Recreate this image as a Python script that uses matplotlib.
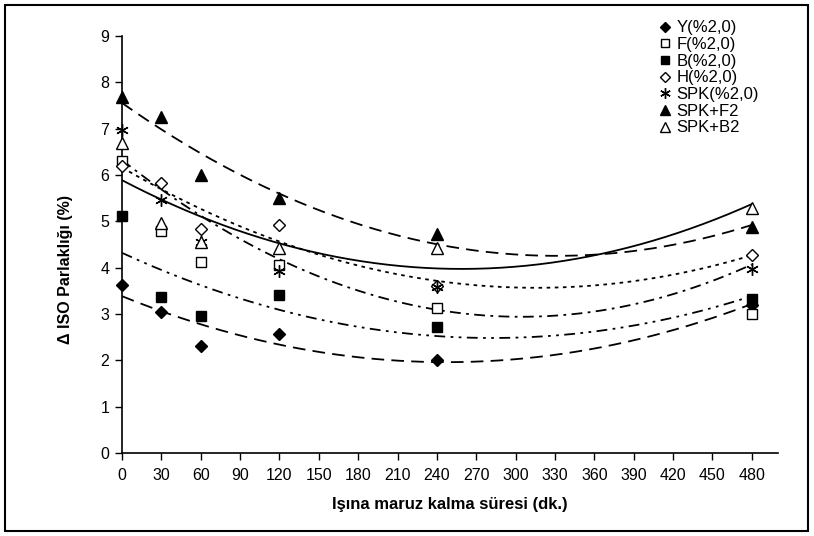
import numpy as np
import matplotlib
matplotlib.use("Agg")
import matplotlib.pyplot as plt
from matplotlib.patches import Rectangle

plt.rcParams['font.family'] = ['Liberation Sans', 'DejaVu Sans']

times = [0, 30, 60, 120, 240, 480]
series_names = ["Y(%2,0)", "F(%2,0)", "B(%2,0)", "H(%2,0)", "SPK(%2,0)", "SPK+F2", "SPK+B2"]
y_vals = [3.62, 3.05, 2.30, 2.57, 2.00, 3.20]
f_vals = [6.30, 4.80, 4.12, 4.05, 3.12, 3.00]
b_vals = [5.12, 3.37, 2.95, 3.40, 2.72, 3.33]
h_vals = [6.20, 5.83, 4.83, 4.93, 3.60, 4.28]
spk_vals = [6.97, 5.47, 4.55, 3.93, 3.58, 3.97]
spkf2_vals = [7.68, 7.25, 6.00, 5.50, 4.72, 4.88]
spkb2_vals = [6.70, 4.97, 4.55, 4.42, 4.42, 5.28]
x_ticks = list(range(0, 481, 30))
y_ticks = list(range(0, 10))

all_vals = [y_vals, f_vals, b_vals, h_vals, spk_vals, spkf2_vals, spkb2_vals]
markers = ['D', 's', 's', 'D', (6, 2, 0), '^', '^']
mfc = ['black', 'white', 'black', 'white', 'black', 'black', 'white']
msizes = [6.5, 7, 7, 6.5, 9, 8, 8]
# trend line styles (None = no trend line)
trend_styles = [(0, (7, 4)), None, (0, (6, 3, 1.5, 3, 1.5, 3)), (0, (2, 2.5)),
                (0, (6, 3, 1.5, 3)), (0, (7, 4)), '-']

fig = plt.figure(figsize=(8.14, 5.36), dpi=100)
ax = fig.add_axes([122/814, 83/536, (778-122)/814, 417/536])

xs = np.linspace(0, 480, 300)
for vals, ls in zip(all_vals, trend_styles):
    if ls is None:
        continue
    c = np.polyfit(times, vals, 2)
    ax.plot(xs, np.polyval(c, xs), color='black', linestyle=ls, linewidth=1.3, zorder=2)

handles = []
for name, vals, m, fc, ms in zip(series_names, all_vals, markers, mfc, msizes):
    h, = ax.plot(times, vals, linestyle='none', marker=m, markersize=ms,
                 markerfacecolor=fc, markeredgecolor='black', markeredgewidth=1.0,
                 color='black', label=name, zorder=3, clip_on=False)
    handles.append(h)

ax.set_xlim(0, 500)
ax.set_ylim(0, 9)
ax.set_xticks(x_ticks)
ax.set_yticks(y_ticks)
ax.tick_params(direction='out', length=5, width=1, labelsize=11.5, pad=4, color='black')
ax.tick_params(axis='x', pad=6)
for side in ['top', 'right']:
    ax.spines[side].set_visible(False)
for side in ['left', 'bottom']:
    ax.spines[side].set_linewidth(1.2)

ax.set_xlabel("Işına maruz kalma süresi (dk.)", fontsize=12, fontweight='bold', labelpad=10)
ax.set_ylabel("Δ ISO Parlaklığı (%)", fontsize=11.5, fontweight='bold')
ax.yaxis.set_label_coords(-0.075, 0.44)

fig.legend(handles=handles, loc='upper left', bbox_to_anchor=(650/814, 1 - 12/536),
           frameon=False, fontsize=12, handlelength=0.8, handletextpad=0.3,
           labelspacing=0.1, borderpad=0, markerscale=0.85)

fig.patches.append(Rectangle((5/814, 5/536), 803/814, 526/536, transform=fig.transFigure,
                             fill=False, edgecolor='black', linewidth=1.5))

fig.savefig("out.png", dpi=100)
